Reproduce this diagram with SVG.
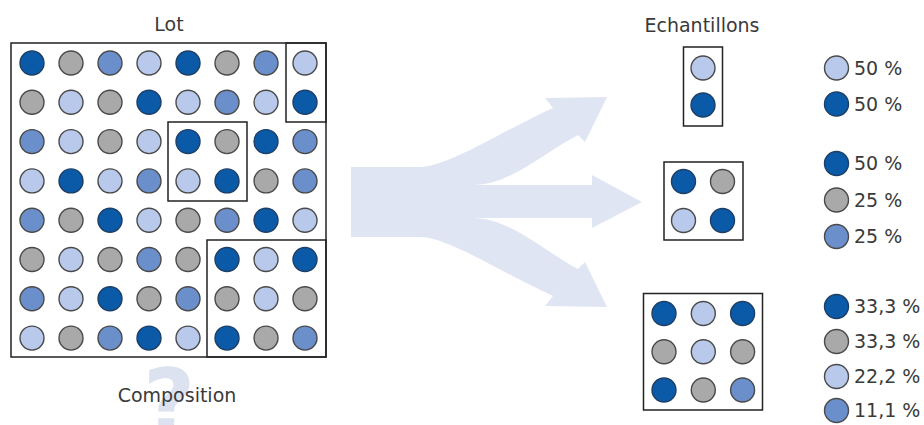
<svg xmlns="http://www.w3.org/2000/svg" width="924" height="425" viewBox="0 0 924 425">
<style>
text{font-family:"DejaVu Sans","Liberation Sans",sans-serif;fill:#3a3a3a;font-size:19px}
circle{stroke:#4a4a4a;stroke-width:1.4}
.D{fill:#0b5aa8;stroke:#1d3f66}
.G{fill:#a9a9a9}
.M{fill:#6a8fcb}
.L{fill:#b9c9ec}
.box{fill:none;stroke:#222;stroke-width:1.5}
</style>
<rect width="924" height="425" fill="#fff"/>
<text x="169" y="434" text-anchor="middle" style="font-family:'DejaVu Sans',sans-serif;font-weight:bold;font-size:90px;fill:#dce2ef">?</text>
<g id="connectors">
<path fill="#dfe5f2" d="M351,167 L420,167 C448,167 500,132 553,108 L545,98 L607,97 L585,142 L578,135 C545,152 510,185 473,185 L592,185 L592,175 L642,202 L592,228 L592,218 L473,218 C510,218 545,252 578,269 L585,262 L607,307 L545,306 L553,296 C500,272 448,237 420,237 L351,237 Z"/>
</g>
<g id="lot">
<text x="169" y="31" text-anchor="middle">Lot</text>
<rect class="box" x="11" y="43" width="315" height="314"/>
<g id="lot-row1">
<circle class="D" cx="32" cy="63" r="12"/><circle class="G" cx="71" cy="63" r="12"/><circle class="M" cx="110" cy="63" r="12"/><circle class="L" cx="149" cy="63" r="12"/><circle class="D" cx="188" cy="63" r="12"/><circle class="G" cx="227" cy="63" r="12"/><circle class="M" cx="266" cy="63" r="12"/><circle class="L" cx="305" cy="63" r="12"/>
</g>
<g id="lot-row2">
<circle class="G" cx="32" cy="102.3" r="12"/><circle class="L" cx="71" cy="102.3" r="12"/><circle class="G" cx="110" cy="102.3" r="12"/><circle class="D" cx="149" cy="102.3" r="12"/><circle class="L" cx="188" cy="102.3" r="12"/><circle class="M" cx="227" cy="102.3" r="12"/><circle class="L" cx="266" cy="102.3" r="12"/><circle class="D" cx="305" cy="102.3" r="12"/>
</g>
<g id="lot-row3">
<circle class="M" cx="32" cy="141.6" r="12"/><circle class="L" cx="71" cy="141.6" r="12"/><circle class="G" cx="110" cy="141.6" r="12"/><circle class="L" cx="149" cy="141.6" r="12"/><circle class="D" cx="188" cy="141.6" r="12"/><circle class="G" cx="227" cy="141.6" r="12"/><circle class="D" cx="266" cy="141.6" r="12"/><circle class="M" cx="305" cy="141.6" r="12"/>
</g>
<g id="lot-row4">
<circle class="L" cx="32" cy="180.9" r="12"/><circle class="D" cx="71" cy="180.9" r="12"/><circle class="L" cx="110" cy="180.9" r="12"/><circle class="M" cx="149" cy="180.9" r="12"/><circle class="L" cx="188" cy="180.9" r="12"/><circle class="D" cx="227" cy="180.9" r="12"/><circle class="G" cx="266" cy="180.9" r="12"/><circle class="M" cx="305" cy="180.9" r="12"/>
</g>
<g id="lot-row5">
<circle class="M" cx="32" cy="220.2" r="12"/><circle class="G" cx="71" cy="220.2" r="12"/><circle class="D" cx="110" cy="220.2" r="12"/><circle class="L" cx="149" cy="220.2" r="12"/><circle class="G" cx="188" cy="220.2" r="12"/><circle class="M" cx="227" cy="220.2" r="12"/><circle class="D" cx="266" cy="220.2" r="12"/><circle class="L" cx="305" cy="220.2" r="12"/>
</g>
<g id="lot-row6">
<circle class="G" cx="32" cy="259.5" r="12"/><circle class="L" cx="71" cy="259.5" r="12"/><circle class="G" cx="110" cy="259.5" r="12"/><circle class="M" cx="149" cy="259.5" r="12"/><circle class="G" cx="188" cy="259.5" r="12"/><circle class="D" cx="227" cy="259.5" r="12"/><circle class="L" cx="266" cy="259.5" r="12"/><circle class="D" cx="305" cy="259.5" r="12"/>
</g>
<g id="lot-row7">
<circle class="M" cx="32" cy="298.8" r="12"/><circle class="L" cx="71" cy="298.8" r="12"/><circle class="D" cx="110" cy="298.8" r="12"/><circle class="G" cx="149" cy="298.8" r="12"/><circle class="M" cx="188" cy="298.8" r="12"/><circle class="G" cx="227" cy="298.8" r="12"/><circle class="L" cx="266" cy="298.8" r="12"/><circle class="G" cx="305" cy="298.8" r="12"/>
</g>
<g id="lot-row8">
<circle class="L" cx="32" cy="338.1" r="12"/><circle class="G" cx="71" cy="338.1" r="12"/><circle class="M" cx="110" cy="338.1" r="12"/><circle class="D" cx="149" cy="338.1" r="12"/><circle class="L" cx="188" cy="338.1" r="12"/><circle class="D" cx="227" cy="338.1" r="12"/><circle class="G" cx="266" cy="338.1" r="12"/><circle class="M" cx="305" cy="338.1" r="12"/>
</g>
<rect class="box" x="286" y="43" width="40" height="79"/>
<rect class="box" x="168" y="122" width="79" height="79"/>
<rect class="box" x="207" y="240" width="119" height="117"/>
<text x="177" y="402" text-anchor="middle">Composition</text>
</g>
<g id="echantillons-title">
<text x="702" y="32" text-anchor="middle">Echantillons</text>
</g>
<g id="sample1">
<rect class="box" x="683.5" y="47" width="39" height="79"/>
<circle class="L" cx="703" cy="68" r="12"/>
<circle class="D" cx="703" cy="105" r="12"/>
</g>
<g id="legend1">
<circle class="L" cx="836.5" cy="68" r="12"/><text x="854" y="74.5">50 %</text>
<circle class="D" cx="836.5" cy="104" r="12"/><text x="854" y="110.5">50 %</text>
</g>
<g id="sample2">
<rect class="box" x="664" y="162" width="79" height="78"/>
<circle class="D" cx="683.5" cy="181.5" r="12"/><circle class="G" cx="722.5" cy="181.5" r="12"/>
<circle class="L" cx="683.5" cy="220.5" r="12"/><circle class="D" cx="722.5" cy="220.5" r="12"/>
</g>
<g id="legend2">
<circle class="D" cx="836.5" cy="163.5" r="12"/><text x="854" y="170">50 %</text>
<circle class="G" cx="836.5" cy="200" r="12"/><text x="854" y="206.5">25 %</text>
<circle class="M" cx="836.5" cy="236.5" r="12"/><text x="854" y="243">25 %</text>
</g>
<g id="sample3">
<rect class="box" x="643.5" y="293.5" width="119" height="116.5"/>
<circle class="D" cx="664" cy="313.5" r="12"/><circle class="L" cx="703.3" cy="313.5" r="12"/><circle class="D" cx="742.6" cy="313.5" r="12"/>
<circle class="G" cx="664" cy="351.7" r="12"/><circle class="L" cx="703.3" cy="351.7" r="12"/><circle class="G" cx="742.6" cy="351.7" r="12"/>
<circle class="D" cx="664" cy="390" r="12"/><circle class="G" cx="703.3" cy="390" r="12"/><circle class="M" cx="742.6" cy="390" r="12"/>
</g>
<g id="legend3">
<circle class="D" cx="836.5" cy="306.5" r="12"/><text x="854" y="313">33,3 %</text>
<circle class="G" cx="836.5" cy="341.5" r="12"/><text x="854" y="348">33,3 %</text>
<circle class="L" cx="836.5" cy="376.5" r="12"/><text x="854" y="383">22,2 %</text>
<circle class="M" cx="836.5" cy="410.5" r="12"/><text x="854" y="417">11,1 %</text>
</g>
</svg>
